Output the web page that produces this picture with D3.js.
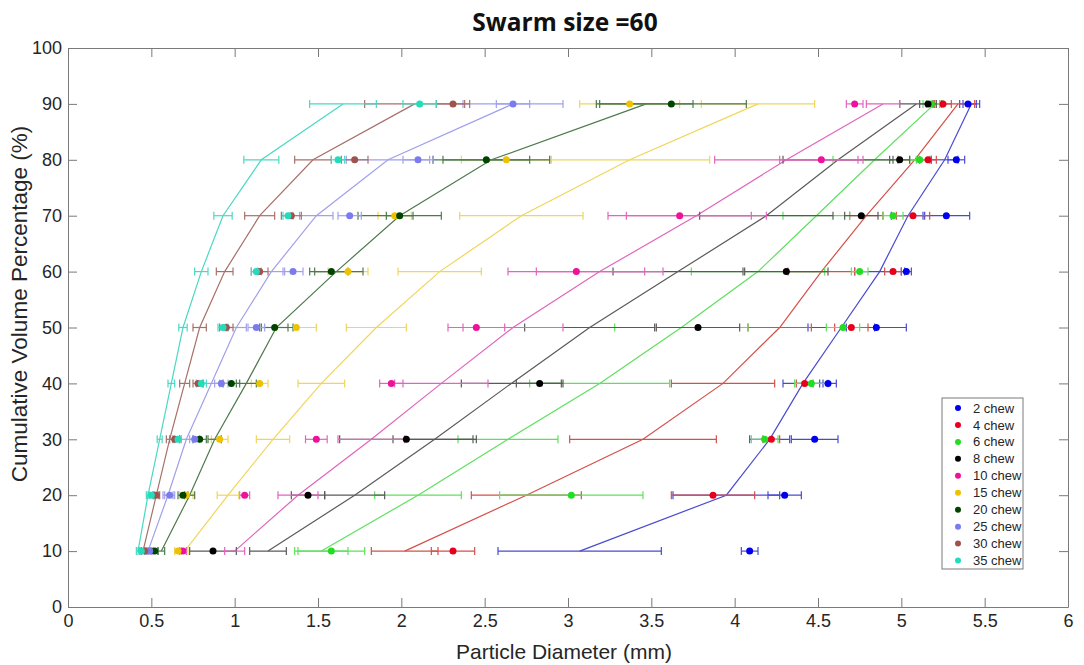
<!DOCTYPE html>
<html>
<head>
<meta charset="utf-8">
<script src="https://cdn.jsdelivr.net/npm/d3@7"></script>
<style>
    body { margin: 0; background: #fff; }
    text { font-family: "Liberation Sans", Arial, sans-serif; }
</style>
</head>
<body>
<div id="viz"></div>
<script>
// chart data
var chews = ["2 chew", "4 chew", "6 chew", "8 chew", "10 chew", "15 chew", "20 chew", "25 chew", "30 chew", "35 chew"];
var dotColors = ["#0000ee", "#e6001e", "#22dd22", "#000000", "#ee1199", "#eec200", "#004400", "#7b7bf0", "#a0524d", "#22ddbb"];
var lineColors = ["#4a4ad0", "#d4504a", "#5ee05e", "#5a5a5a", "#e065bd", "#f0d65a", "#4d7a4d", "#a0a0ec", "#a8706a", "#4ad8c4"];
var levels = [10, 20, 30, 40, 50, 60, 70, 80, 90];
var xTicks = [0, 0.5, 1, 1.5, 2, 2.5, 3, 3.5, 4, 4.5, 5, 5.5, 6];
var yTicks = [0, 10, 20, 30, 40, 50, 60, 70, 80, 90, 100];

// line vertices (one row per series, values at levels 10..90)
var lineX = [
    [3.07, 3.95, 4.21, 4.41, 4.64, 4.87, 5.04, 5.26, 5.42],
    [2.02, 2.75, 3.45, 3.93, 4.27, 4.52, 4.79, 5.08, 5.34],
    [1.52, 2.10, 2.64, 3.19, 3.68, 4.14, 4.49, 4.84, 5.20],
    [1.20, 1.72, 2.20, 2.66, 3.13, 3.66, 4.19, 4.62, 5.09],
    [1.00, 1.38, 1.82, 2.24, 2.67, 3.19, 3.77, 4.31, 4.89],
    [0.70, 0.96, 1.23, 1.52, 1.85, 2.23, 2.72, 3.37, 4.14],
    [0.56, 0.73, 0.88, 1.07, 1.25, 1.61, 1.99, 2.54, 3.47],
    [0.48, 0.60, 0.71, 0.86, 1.01, 1.22, 1.49, 1.92, 2.67],
    [0.45, 0.53, 0.61, 0.70, 0.79, 0.94, 1.15, 1.47, 2.08],
    [0.42, 0.48, 0.55, 0.62, 0.69, 0.80, 0.93, 1.16, 1.65]
];
var lineErr = [
    [0.49, 0.32, 0.12, 0.12, 0.20, 0.15, 0.10, 0.08, 0.05],
    [0.20, 0.33, 0.44, 0.31, 0.19, 0.20, 0.10, 0.10, 0.10],
    [0.16, 0.26, 0.30, 0.42, 0.40, 0.40, 0.20, 0.25, 0.05],
    [0.11, 0.18, 0.25, 0.30, 0.39, 0.39, 0.40, 0.33, 0.10],
    [0.06, 0.12, 0.20, 0.28, 0.30, 0.38, 0.42, 0.43, 0.10],
    [0.02, 0.065, 0.10, 0.14, 0.18, 0.25, 0.37, 0.48, 0.34],
    [0.02, 0.03, 0.04, 0.06, 0.10, 0.16, 0.25, 0.35, 0.28],
    [0.02, 0.03, 0.04, 0.05, 0.06, 0.08, 0.10, 0.25, 0.30],
    [0.01, 0.015, 0.02, 0.03, 0.04, 0.05, 0.09, 0.11, 0.30],
    [0.01, 0.01, 0.015, 0.02, 0.025, 0.04, 0.055, 0.105, 0.20]
];
// measured points
var dotX = [
    [4.09, 4.30, 4.48, 4.56, 4.85, 5.03, 5.27, 5.33, 5.40],
    [2.31, 3.87, 4.22, 4.42, 4.70, 4.95, 5.07, 5.16, 5.25],
    [1.58, 3.02, 4.18, 4.46, 4.65, 4.75, 4.95, 5.11, 5.18],
    [0.87, 1.44, 2.03, 2.83, 3.78, 4.31, 4.76, 4.99, 5.16],
    [0.69, 1.06, 1.49, 1.94, 2.45, 3.05, 3.67, 4.52, 4.72],
    [0.66, 0.71, 0.91, 1.15, 1.37, 1.68, 1.96, 2.63, 3.37],
    [0.52, 0.69, 0.79, 0.98, 1.24, 1.58, 1.99, 2.51, 3.62],
    [0.49, 0.61, 0.76, 0.92, 1.13, 1.35, 1.69, 2.10, 2.67],
    [0.46, 0.53, 0.64, 0.78, 0.95, 1.15, 1.34, 1.72, 2.31],
    [0.44, 0.50, 0.66, 0.80, 0.93, 1.13, 1.32, 1.62, 2.11]
];
var dotErr = [
    [0.05, 0.10, 0.14, 0.05, 0.18, 0.03, 0.14, 0.05, 0.05],
    [0.13, 0.25, 0.05, 0.05, 0.10, 0.05, 0.10, 0.05, 0.05],
    [0.20, 0.43, 0.08, 0.10, 0.10, 0.05, 0.06, 0.06, 0.05],
    [0.14, 0.10, 0.40, 0.14, 0.25, 0.25, 0.10, 0.06, 0.05],
    [0.02, 0.03, 0.065, 0.07, 0.17, 0.41, 0.43, 0.25, 0.05],
    [0.02, 0.04, 0.05, 0.05, 0.12, 0.12, 0.10, 0.27, 0.30],
    [0.02, 0.03, 0.04, 0.05, 0.08, 0.10, 0.08, 0.26, 0.45],
    [0.02, 0.03, 0.03, 0.04, 0.05, 0.06, 0.07, 0.09, 0.10],
    [0.02, 0.02, 0.03, 0.03, 0.04, 0.05, 0.06, 0.08, 0.10],
    [0.02, 0.02, 0.02, 0.03, 0.03, 0.03, 0.03, 0.04, 0.10]
];

drawChart();

function drawChart() {
    var width = 1084, height = 665;
    var left = 68, right = 1068, top = 48, bottom = 607;
    var axisColor = "#7a7a7a";

    var svg = d3.select("#viz").append("svg")
        .attr("width", width).attr("height", height);

    var x = d3.scaleLinear().domain([0, 6]).range([left, right]);
    var y = d3.scaleLinear().domain([0, 100]).range([bottom, top]);

    // title
    svg.append("text")
        .attr("x", 565).attr("y", 31)
        .attr("text-anchor", "middle")
        .style("font-family", "'Liberation Sans Narrow', 'Open Sans', sans-serif")
        .style("font-weight", "bold")
        .style("font-size", "24.5px")
        .attr("fill", "#111")
        .text("Swarm size =60");

    // axes (ticks on all four sides, pointing in)
    var gx = svg.append("g").attr("transform", "translate(0," + bottom + ")")
        .call(d3.axisBottom(x).tickValues(xTicks).tickSizeInner(-9).tickSizeOuter(0)
            .tickPadding(7).tickFormat(function (d) { return String(d); }));
    var gy = svg.append("g").attr("transform", "translate(" + left + ",0)")
        .call(d3.axisLeft(y).tickValues(yTicks).tickSizeInner(-9).tickSizeOuter(0)
            .tickPadding(6).tickFormat(function (d) { return String(d); }));
    var gt = svg.append("g").attr("transform", "translate(0," + top + ")")
        .call(d3.axisTop(x).tickValues(xTicks).tickSizeInner(-9).tickSizeOuter(0).tickFormat(""));
    var gr = svg.append("g").attr("transform", "translate(" + right + ",0)")
        .call(d3.axisRight(y).tickValues(yTicks).tickSizeInner(-9).tickSizeOuter(0).tickFormat(""));

    [gx, gy, gt, gr].forEach(function (g) {
        g.select(".domain").attr("stroke", axisColor);
        g.selectAll(".tick line").attr("stroke", axisColor);
        g.selectAll(".tick text")
            .attr("fill", "#262626")
            .style("font-family", "'Liberation Sans', Arial, sans-serif")
            .style("font-size", "18px");
    });

    // axis labels
    svg.append("text")
        .attr("x", 564).attr("y", 659)
        .attr("text-anchor", "middle")
        .style("font-size", "21px")
        .attr("fill", "#262626")
        .text("Particle Diameter (mm)");
    svg.append("text")
        .attr("transform", "translate(27," + 304 + ") rotate(-90)")
        .attr("text-anchor", "middle")
        .style("font-size", "22.5px")
        .attr("fill", "#262626")
        .text("Cumulative Volume Percentage (%)");

    var plot = svg.append("g");
    var line = d3.line()
        .x(function (d) { return x(d.v); })
        .y(function (d) { return y(d.lev); });

    var seriesIdx = d3.range(chews.length);

    // lines through the vertices
    seriesIdx.forEach(function (s) {
        var pts = levels.map(function (lev, i) { return { lev: lev, v: lineX[s][i] }; });
        plot.append("path")
            .datum(pts)
            .attr("d", line)
            .attr("fill", "none")
            .attr("stroke", lineColors[s])
            .attr("stroke-width", 1.2);
    });

    // error bars, both for the line vertices and the measured points
    var bars = [];
    seriesIdx.forEach(function (s) {
        levels.forEach(function (lev, i) {
            bars.push({ s: s, lev: lev, lo: lineX[s][i] - lineErr[s][i], hi: lineX[s][i] + lineErr[s][i] });
            bars.push({ s: s, lev: lev, lo: dotX[s][i] - dotErr[s][i], hi: dotX[s][i] + dotErr[s][i] });
        });
    });

    var eb = plot.selectAll(".ebar").data(bars).enter().append("g")
        .attr("class", "ebar")
        .attr("stroke", function (d) { return lineColors[d.s]; })
        .attr("stroke-width", 1.2);
    eb.append("line")
        .attr("x1", function (d) { return x(d.lo); })
        .attr("x2", function (d) { return x(d.hi); })
        .attr("y1", function (d) { return y(d.lev); })
        .attr("y2", function (d) { return y(d.lev); });
    eb.append("line")
        .attr("x1", function (d) { return x(d.lo); })
        .attr("x2", function (d) { return x(d.lo); })
        .attr("y1", function (d) { return y(d.lev) - 4; })
        .attr("y2", function (d) { return y(d.lev) + 4; });
    eb.append("line")
        .attr("x1", function (d) { return x(d.hi); })
        .attr("x2", function (d) { return x(d.hi); })
        .attr("y1", function (d) { return y(d.lev) - 4; })
        .attr("y2", function (d) { return y(d.lev) + 4; });

    // dots
    var dots = [];
    seriesIdx.forEach(function (s) {
        levels.forEach(function (lev, i) {
            dots.push({ s: s, lev: lev, v: dotX[s][i] });
        });
    });
    plot.selectAll(".dot").data(dots).enter().append("circle")
        .attr("class", "dot")
        .attr("cx", function (d) { return x(d.v); })
        .attr("cy", function (d) { return y(d.lev); })
        .attr("r", 3.5)
        .attr("fill", function (d) { return dotColors[d.s]; });

    // legend
    var lg = svg.append("g").attr("transform", "translate(942,398)");
    lg.append("rect")
        .attr("width", 81).attr("height", 171)
        .attr("fill", "#fff")
        .attr("stroke", "#7a7a7a");
    var items = lg.selectAll(".key").data(chews).enter().append("g")
        .attr("class", "key")
        .attr("transform", function (d, i) { return "translate(0," + (10 + i * 16.95) + ")"; });
    items.append("circle")
        .attr("cx", 16).attr("cy", 0).attr("r", 3)
        .attr("fill", function (d, i) { return dotColors[i]; });
    items.append("text")
        .attr("x", 31).attr("y", 0).attr("dy", "0.35em")
        .style("font-size", "13px")
        .attr("fill", "#262626")
        .text(function (d) { return d; });
}
</script>
</body>
</html>
